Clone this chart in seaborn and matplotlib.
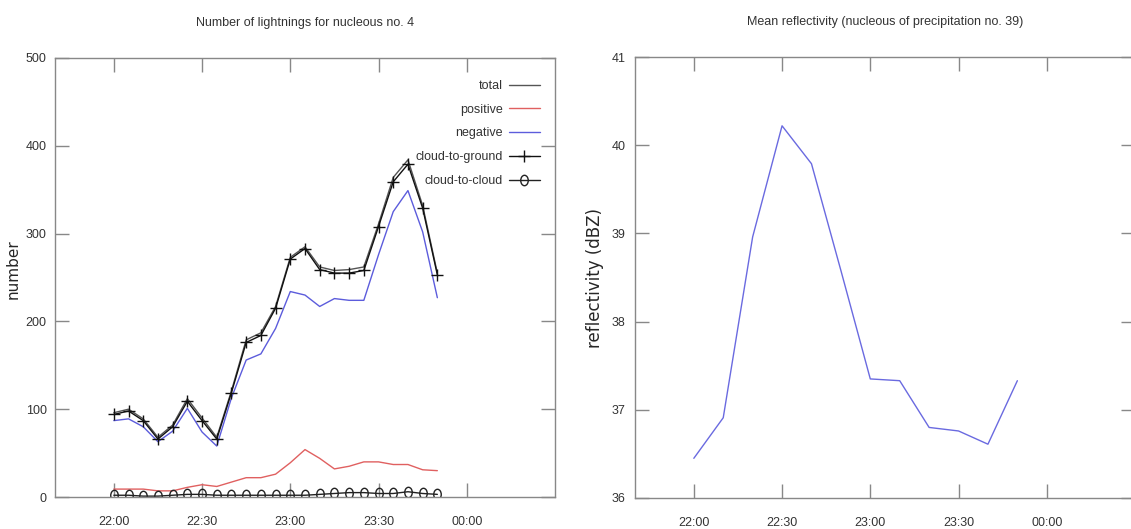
import numpy as np
import pandas as pd
import seaborn as sns
import matplotlib.pyplot as plt
from matplotlib.path import Path
from matplotlib.transforms import Affine2D

# lightning counts, every 5 minutes
times_light = ["22:00", "22:05", "22:10", "22:15", "22:20", "22:25", "22:30", "22:35",
               "22:40", "22:45", "22:50", "22:55", "23:00", "23:05", "23:10", "23:15",
               "23:20", "23:25", "23:30", "23:35", "23:40", "23:45", "23:50"]
total = [96, 100, 89, 68, 82, 112, 90, 68, 121, 179, 187, 217, 273, 285, 262, 258,
         259, 262, 311, 364, 384, 332, 255]
positive = [9, 9, 9, 7, 7, 11, 14, 12, 17, 22, 22, 26, 39, 54, 44, 32, 35, 40, 40,
            37, 37, 31, 30]
negative = [87, 89, 80, 63, 75, 101, 74, 58, 113, 156, 163, 192, 234, 230, 217, 226,
            224, 224, 276, 325, 349, 302, 227]
cloud_ground = [94, 98, 87, 66, 80, 109, 87, 66, 119, 176, 184, 215, 271, 283, 259,
                255, 255, 258, 308, 359, 379, 329, 253]
cloud_cloud = [2, 2, 1, 1, 2, 3, 3, 2, 2, 2, 2, 2, 2, 2, 3, 4, 5, 5, 4, 4, 6, 4, 3]

# mean reflectivity, every 10 minutes
times_refl = ["22:00", "22:10", "22:20", "22:30", "22:40", "22:50", "23:00", "23:10",
              "23:20", "23:30", "23:40", "23:50"]
reflectivity = [36.45, 36.91, 38.96, 40.22, 39.79, 38.58, 37.35, 37.33, 36.80, 36.76,
                36.61, 37.33]

tick_labels = ["22:00", "22:30", "23:00", "23:30", "00:00"]


def to_time(labels):
    t = pd.to_datetime(["2000-01-01 " + s for s in labels])
    return [x + pd.Timedelta(days=1) if x.hour < 12 else x for x in t]


t_light = to_time(times_light)
t_refl = to_time(times_refl)
t_ticks = to_time(tick_labels)
x_lim = to_time(["21:40", "00:30"])

sns.set_style("ticks")
plt.rcParams['font.family'] = ['Liberation Sans', 'DejaVu Sans']
plt.rcParams['text.color'] = '#333333'
plt.rcParams['xtick.color'] = '#888888'
plt.rcParams['ytick.color'] = '#888888'
plt.rcParams['xtick.labelcolor'] = '#333333'
plt.rcParams['ytick.labelcolor'] = '#333333'

FS = 9

W, H = 1131, 529
fig = plt.figure(figsize=(W / 100, H / 100), dpi=100)
ax1 = fig.add_axes([55 / W, 32 / H, 500 / W, 439 / H])
ax2 = fig.add_axes([635 / W, 31 / H, 500 / W, 441 / H])

# squashed circle / plus like the reference markers
ellipse = Path.unit_circle().transformed(Affine2D().scale(0.72, 1.0))

sns.lineplot(x=t_light, y=total, ax=ax1, color='#555555', lw=1.0, label='total')
sns.lineplot(x=t_light, y=positive, ax=ax1, color='#e06060', lw=1.0, label='positive')
sns.lineplot(x=t_light, y=negative, ax=ax1, color='#5c5cdc', lw=1.0, label='negative')
sns.lineplot(x=t_light, y=cloud_ground, ax=ax1, color='#111111', lw=1.0, marker='+',
             markersize=8, markeredgewidth=1.0, markeredgecolor='#111111',
             label='cloud-to-ground')
sns.lineplot(x=t_light, y=cloud_cloud, ax=ax1, color='#222222', lw=1.0, marker=ellipse,
             markersize=7.5, markerfacecolor='none', markeredgecolor='#222222',
             markeredgewidth=1.0, label='cloud-to-cloud')

sns.lineplot(x=t_refl, y=reflectivity, ax=ax2, color='#6a6ae0', lw=1.0, legend=False)

handles = ax1.get_lines()[:5]
ax1.legend(handles=handles, labels=[h.get_label() for h in handles],
           loc='upper right', bbox_to_anchor=(0.97, 0.95), frameon=False,
           markerfirst=False, handlelength=2.5, handletextpad=0.5,
           labelspacing=0.94, borderpad=0, borderaxespad=0, fontsize=FS)

for ax in (ax1, ax2):
    ax.set_xlim(x_lim)
    ax.set_xticks(t_ticks)
    ax.set_xticklabels(tick_labels)
    ax.set_xlabel('')
    ax.tick_params(direction='in', length=10, width=1, top=True, right=True,
                   labelsize=FS)
    ax.tick_params(axis='x', pad=14)
    for s in ax.spines.values():
        s.set_color('#888888')
        s.set_linewidth(1)

ax1.set_ylim(0, 500)
ax1.set_yticks([0, 100, 200, 300, 400, 500])
ax1.tick_params(axis='y', pad=6)
ax2.set_ylim(36, 41)
ax2.set_yticks([36, 37, 38, 39, 40, 41])
ax2.tick_params(axis='y', pad=7)

ax1.set_title('Number of lightnings for nucleous no. 4', fontsize=FS, pad=23)
ax2.set_title('Mean reflectivity (nucleous of precipitation no. 39)', fontsize=FS, pad=23)

ax1.set_ylabel('number', fontfamily='DejaVu Sans', fontsize=11)
ax1.yaxis.set_label_coords(-0.068, 0.52)
ax2.set_ylabel('reflectivity (dBZ)', fontfamily='DejaVu Sans', fontsize=12)
ax2.yaxis.set_label_coords(-0.062, 0.5)

fig.savefig('out.png', dpi=100)
